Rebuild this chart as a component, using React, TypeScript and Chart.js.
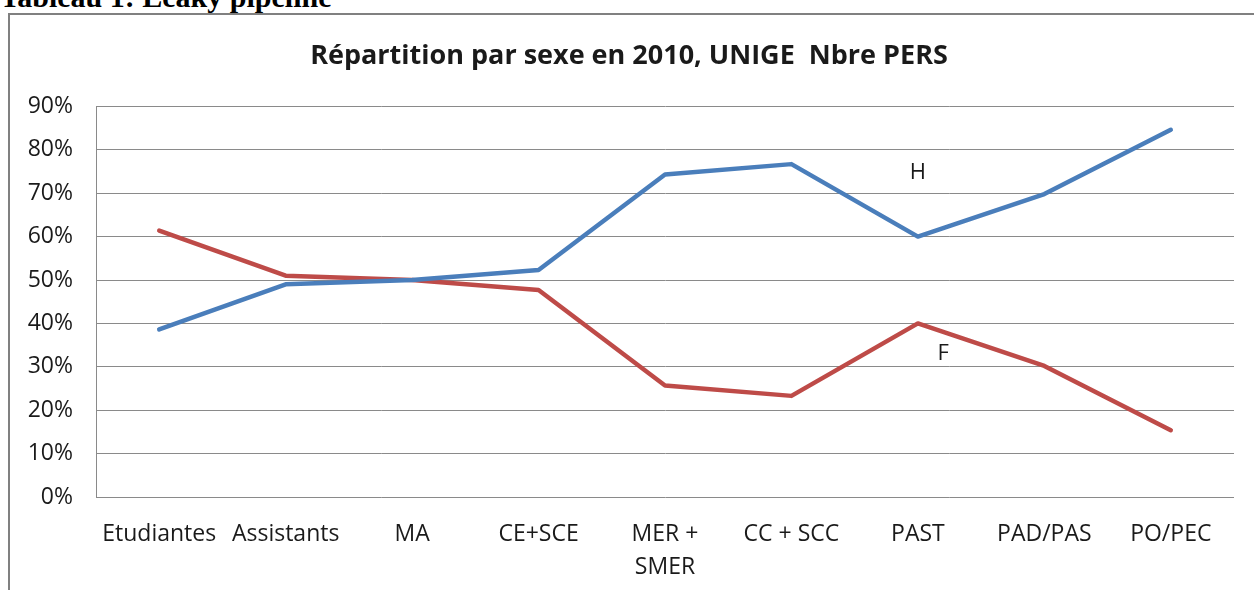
import React, { useEffect, useRef } from "react";
import { Chart, registerables } from "chart.js";

Chart.register(...registerables);

const categories: (string | string[])[] = [
  "Etudiantes",
  "Assistants",
  "MA",
  "CE+SCE",
  ["MER +", "SMER"],
  "CC + SCC",
  "PAST",
  "PAD/PAS",
  "PO/PEC",
];
const hommes = [38.6, 49.0, 50.0, 52.3, 74.3, 76.7, 60.0, 69.8, 84.6];
const femmes = [61.4, 51.0, 50.0, 47.7, 25.7, 23.3, 40.0, 30.2, 15.4];
const yTicks = [0, 10, 20, 30, 40, 50, 60, 70, 80, 90];
const seriesNames = ["H", "F"];
// annotation positions in data units (category index, percent)
const labelPositions = [
  { text: "H", x: 6.0, y: 74.8 },
  { text: "F", x: 6.2, y: 32.9 },
];

const FONT = "'Open Sans', 'Noto Sans', sans-serif";

export default function App() {
  const ref = useRef<HTMLCanvasElement | null>(null);

  useEffect(() => {
    if (!ref.current) return;
    const annot = {
      id: "annot",
      afterDatasetsDraw(chart: any) {
        const { ctx, scales } = chart;
        ctx.save();
        ctx.font = `22px ${FONT}`;
        ctx.fillStyle = "#1a1a1a";
        ctx.textAlign = "center";
        ctx.textBaseline = "middle";
        labelPositions.forEach((p) => {
          const step = scales.x.getPixelForValue(1) - scales.x.getPixelForValue(0);
          const i = Math.floor(p.x);
          const px = scales.x.getPixelForValue(i) + (p.x - i) * step;
          ctx.fillText(p.text, px, scales.y.getPixelForValue(p.y));
        });
        ctx.restore();
      },
    };
    const chart = new Chart(ref.current, {
      type: "line",
      data: {
        labels: categories as any,
        datasets: [
          {
            label: seriesNames[0],
            data: hommes,
            borderColor: "#4A7EBB",
            backgroundColor: "#4A7EBB",
            borderWidth: 4.5,
            pointRadius: 0,
            tension: 0,
            borderJoinStyle: "round",
            borderCapStyle: "round",
          },
          {
            label: seriesNames[1],
            data: femmes,
            borderColor: "#BE4B48",
            backgroundColor: "#BE4B48",
            borderWidth: 4.5,
            pointRadius: 0,
            tension: 0,
            borderJoinStyle: "round",
            borderCapStyle: "round",
          },
        ],
      },
      options: {
        responsive: false,
        animation: false,
        layout: { padding: { left: 14, right: 20, top: 0, bottom: 0 } },
        plugins: {
          legend: { display: false },
          tooltip: { enabled: false },
          title: {
            display: true,
            text: "Répartition par sexe en 2010, UNIGE  Nbre PERS",
            color: "#1a1a1a",
            font: { family: FONT, size: 27, weight: "bold", lineHeight: 1.2 },
            padding: { top: 25, bottom: 34 },
          },
        },
        scales: {
          x: {
            offset: true,
            grid: { display: false, drawTicks: false, offset: true },
            border: { display: false },
            ticks: {
              color: "#1a1a1a",
              font: { family: FONT, size: 23, lineHeight: 1.43 },
              padding: 21,
              maxRotation: 0,
              autoSkip: false,
            },
            afterFit: (s: any) => {
              s.height = 93;
            },
          },
          y: {
            min: 0,
            max: 90,
            afterBuildTicks: (s: any) => {
              s.ticks = yTicks.map((v) => ({ value: v }));
            },
            grid: { color: "#8a8a8a", lineWidth: 1, drawTicks: false },
            border: { display: true, color: "#8a8a8a", width: 1 },
            ticks: {
              color: "#1a1a1a",
              font: { family: FONT, size: 23 },
              padding: 23,
              callback: (v: any) => v + "%",
            },
            afterFit: (s: any) => {
              s.width = 72;
            },
          },
        },
      },
      plugins: [annot],
    });
    return () => chart.destroy();
  }, []);

  return (
    <div
      style={{
        position: "absolute",
        left: 0,
        top: 0,
        width: 1254,
        height: 590,
        overflow: "hidden",
        background: "#fff",
      }}
    >
      <div
        style={{
          position: "absolute",
          left: 0,
          top: -18,
          fontFamily: "'Liberation Serif', 'Times New Roman', serif",
          fontWeight: "bold",
          fontSize: 30,
          lineHeight: "30px",
          whiteSpace: "nowrap",
          color: "#000",
        }}
      >
        Tableau 1: Leaky pipeline
      </div>
      <div
        style={{
          position: "absolute",
          left: 8,
          top: 13,
          width: 1260,
          height: 600,
          border: "2px solid #808080",
          boxSizing: "border-box",
        }}
      />
      <canvas
        ref={ref}
        width={1244}
        height={575}
        style={{ position: "absolute", left: 10, top: 15, width: 1244, height: 575 }}
      />
    </div>
  );
}
